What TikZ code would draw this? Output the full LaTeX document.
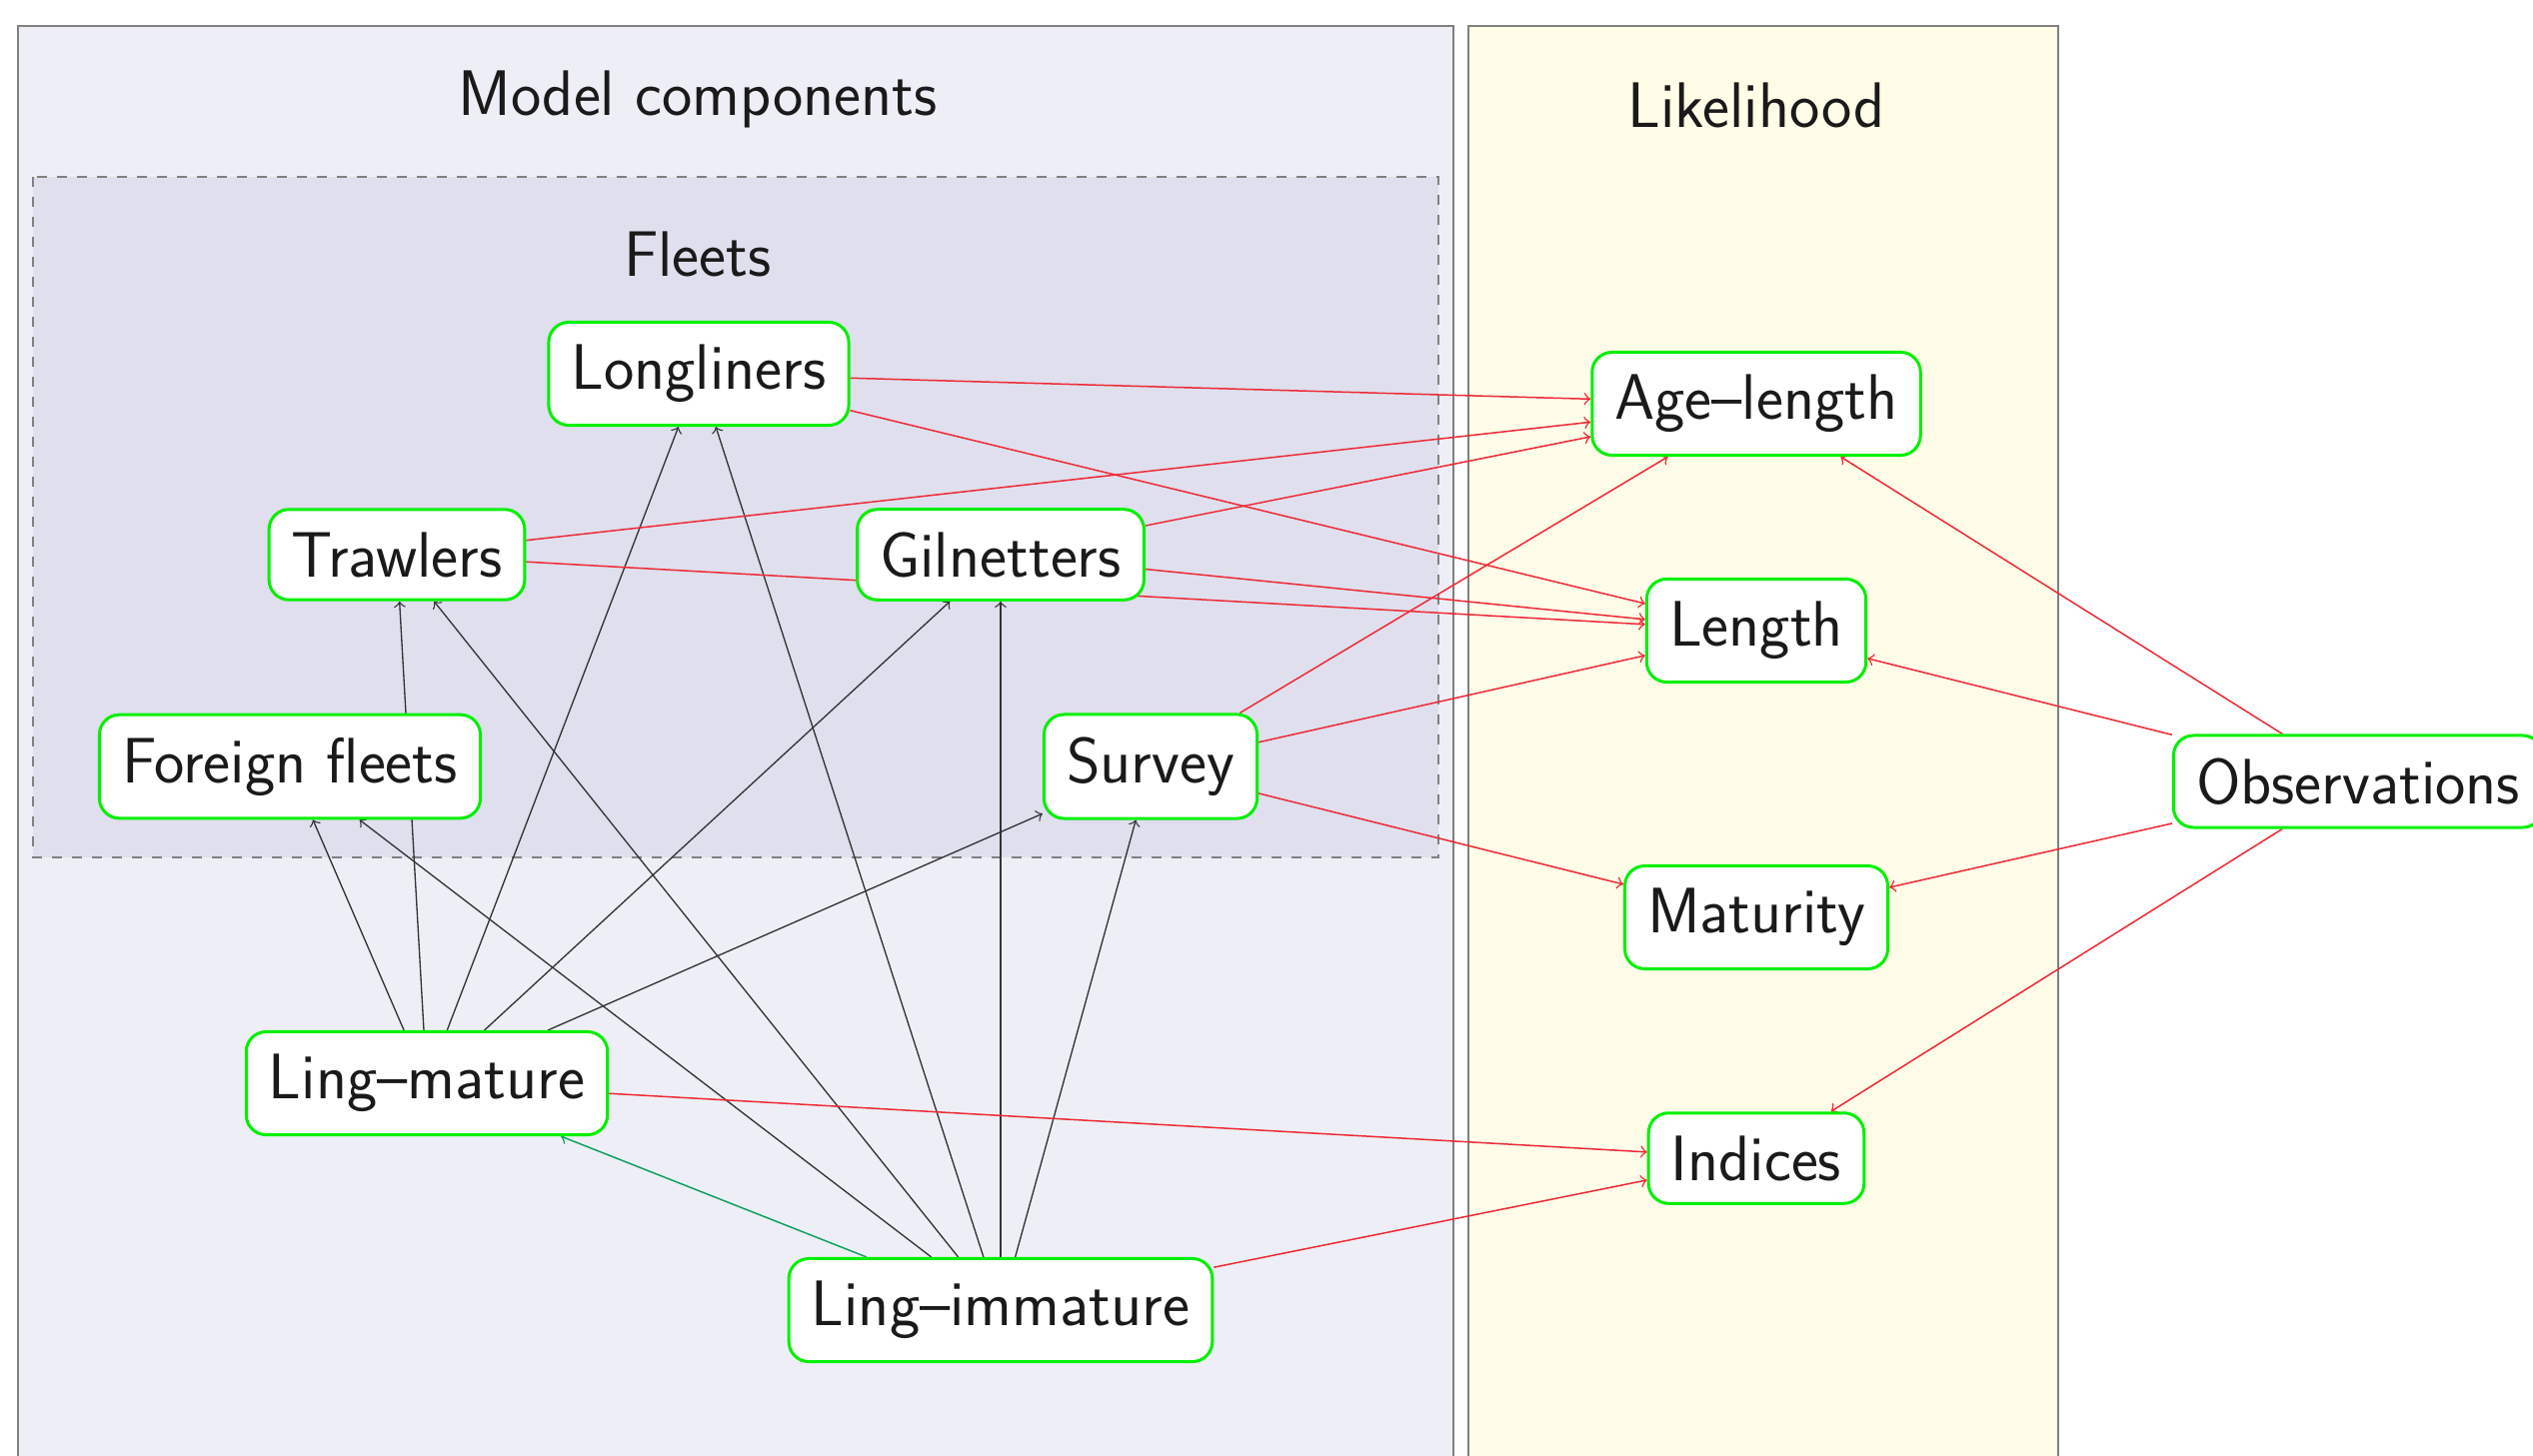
\documentclass[tikz,border=0pt]{standalone}
\usepackage{fontspec}
\newfontfamily\lmsbig{lmsans17-regular.otf}[Ligatures=TeX]
\definecolor{modelbg}{HTML}{EEEFF6}
\definecolor{fleetbg}{HTML}{DFDFEE}
\definecolor{likebg}{HTML}{FFFCE8}
\definecolor{framegray}{HTML}{808080}
\definecolor{nodegreen}{HTML}{00F000}
\definecolor{edgered}{HTML}{EE2A35}
\definecolor{edgegreen}{HTML}{10A060}
\definecolor{edgegray}{HTML}{333333}
\definecolor{textdark}{HTML}{1A1A1A}
\pgfdeclarelayer{bglayer}
\pgfdeclarelayer{edgelayer}
\pgfsetlayers{bglayer,edgelayer,main}
\begin{document}
\begin{tikzpicture}[x=0.3pt,y=-0.3pt,
  font=\lmsbig\fontsize{19.3}{22}\selectfont,
  compbox/.style={draw=nodegreen, line width=0.9pt, fill=white, rounded corners=6pt,
    inner xsep=6.8pt, inner ysep=6.8pt, text=textdark},
  titletext/.style={text=textdark, inner sep=0pt},
  panel/.style={draw=framegray, line width=0.6pt},
  blk/.style={->, draw=edgegray, line width=0.4pt},
  redge/.style={->, draw=edgered, line width=0.45pt},
  gedge/.style={->, draw=edgegreen, line width=0.45pt}]
\useasboundingbox (0,0) rectangle (2534,1457);
\clip (0,0) rectangle (2534,1457);

\begin{pgfonlayer}{bglayer}
  \fill[white] (0,0) rectangle (2534,1457);
  \draw[panel, fill=modelbg] (18,26) rectangle (1454,1480);
  \draw[panel, fill=likebg] (1469,26) rectangle (2059,1480);
  \draw[draw=framegray, dashed, line width=0.5pt, fill=fleetbg] (33,177) rectangle (1439,858);
\end{pgfonlayer}

\node[titletext] (tmodel) at (698,99) {Model components};
\node[titletext] (tlike) at (1757,105) {Likelihood};
\node[titletext] (tfleets) at (698,254) {Fleets};

\node[compbox] (long) at (699,374) {Longliners};
\node[compbox] (trawl) at (397,555) {Trawlers};
\node[compbox] (gil) at (1001,555) {Gilnetters};
\node[compbox] (foreign) at (290,767) {Foreign fleets};
\node[compbox] (survey) at (1151,767) {Survey};
\node[compbox] (mature) at (427,1084) {Ling–mature};
\node[compbox] (immature) at (1001,1311) {Ling–immature};

\node[compbox] (agelen) at (1757,404) {Age–length};
\node[compbox] (length) at (1757,631) {Length};
\node[compbox] (matur) at (1757,918) {Maturity};
\node[compbox] (indices) at (1757,1159) {Indices};
\node[compbox] (obs) at (2359,782) {Observations};

\begin{pgfonlayer}{edgelayer}
  % stock to fleets
  \draw[blk] (mature) -- (foreign);
  \draw[blk] (mature) -- (trawl);
  \draw[blk] (mature) -- (long);
  \draw[blk] (mature) -- (gil);
  \draw[blk] (mature) -- (survey);
  \draw[blk] (immature) -- (foreign);
  \draw[blk] (immature) -- (trawl);
  \draw[blk] (immature) -- (long);
  \draw[blk] (immature) -- (gil);
  \draw[blk] (immature) -- (survey);
  \draw[gedge] (immature) -- (mature);
  % fleets to likelihood
  \draw[redge] (long) -- (agelen);
  \draw[redge] (long) -- (length);
  \draw[redge] (trawl) -- (agelen);
  \draw[redge] (trawl) -- (length);
  \draw[redge] (gil) -- (agelen);
  \draw[redge] (gil) -- (length);
  \draw[redge] (survey) -- (agelen);
  \draw[redge] (survey) -- (length);
  \draw[redge] (survey) -- (matur);
  \draw[redge] (mature) -- (indices);
  \draw[redge] (immature) -- (indices);
  % observations
  \draw[redge] (obs) -- (agelen);
  \draw[redge] (obs) -- (length);
  \draw[redge] (obs) -- (matur);
  \draw[redge] (obs) -- (indices);
\end{pgfonlayer}
\end{tikzpicture}
\end{document}
